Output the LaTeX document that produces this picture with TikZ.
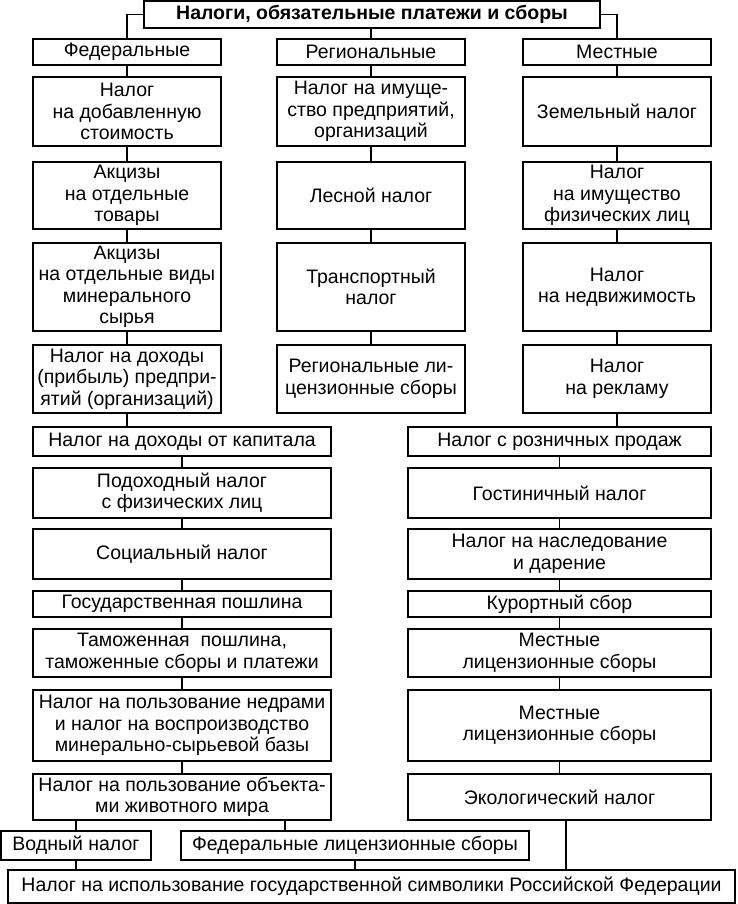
\documentclass[tikz,border=0pt]{standalone}
\usepackage{fontspec}
\setmainfont{Liberation Sans}
\begin{document}
\begin{tikzpicture}[x=1pt,y=-1pt,
  box/.style={draw, line width=1.1pt, inner sep=0pt, outer sep=0pt, align=center,
    font=\fontsize{19.5}{21.5}\selectfont},
  sz/.style 2 args={minimum width=#1pt, minimum height=#2pt},
  conn/.style={line width=1.1pt}]
\useasboundingbox (0,0) rectangle (738,904);
% title
\node[box, sz={456}{27}, font=\fontsize{19.5}{21.5}\selectfont\bfseries] (title) at (372,14.5) {Налоги, обязательные платежи и сборы};
% categories
\node[box, sz={188}{26}] (F) at (127,52) {Федеральные};
\node[box, sz={188}{26}] (R) at (371,52) {Региональные};
\node[box, sz={188}{26}] (M) at (617,52) {Местные};
% federal column (upper)
\node[box, sz={188}{69}] (f1) at (127,111.5) {Налог\\на добавленную\\стоимость};
\node[box, sz={188}{67}] (f2) at (127,195.5) {Акцизы\\на отдельные\\товары};
\node[box, sz={188}{88}] (f3) at (127,287) {Акцизы\\на отдельные виды\\минерального\\сырья};
\node[box, sz={188}{68}] (f4) at (127,379) {Налог на доходы\\(прибыль) предпри-\\ятий (организаций)};
% regional column
\node[box, sz={188}{69}] (r1) at (371,111.5) {Налог на имуще-\\ство предприятий,\\организаций};
\node[box, sz={188}{67}] (r2) at (371,195.5) {Лесной налог};
\node[box, sz={188}{88}] (r3) at (371,287) {Транспортный\\налог};
\node[box, sz={188}{68}] (r4) at (371,379) {Региональные ли-\\цензионные сборы};
% local column (upper)
\node[box, sz={188}{69}] (m1) at (617,111.5) {Земельный налог};
\node[box, sz={188}{67}] (m2) at (617,195.5) {Налог\\на имущество\\физических лиц};
\node[box, sz={188}{88}] (m3) at (617,287) {Налог\\на недвижимость};
\node[box, sz={188}{68}] (m4) at (617,379) {Налог\\на рекламу};
% federal column (lower)
\node[box, sz={298}{29}] (f5) at (182,441.5) {Налог на доходы от капитала};
\node[box, sz={298}{50}] (f6) at (182,493) {Подоходный налог\\с физических лиц};
\node[box, sz={298}{50}] (f7) at (182,554) {Социальный налог};
\node[box, sz={298}{26}] (f8) at (182,604) {Государственная пошлина};
\node[box, sz={298}{48}] (f9) at (182,653) {Таможенная\ \ пошлина,\\таможенные сборы и платежи};
\node[box, sz={298}{71}] (f10) at (182,725.5) {Налог на пользование недрами\\и налог на воспроизводство\\минерально-сырьевой базы};
\node[box, sz={298}{46}] (f11) at (182,797) {Налог на пользование объекта-\\ми животного мира};
% local column (lower)
\node[box, sz={303}{29}] (m5) at (559.5,441.5) {Налог с розничных продаж};
\node[box, sz={303}{50}] (m6) at (559.5,493) {Гостиничный налог};
\node[box, sz={303}{50}] (m7) at (559.5,554) {Налог на наследование\\и дарение};
\node[box, sz={303}{26}] (m8) at (559.5,604) {Курортный сбор};
\node[box, sz={303}{48}] (m9) at (559.5,653) {Местные\\лицензионные сборы};
\node[box, sz={303}{71}] (m10) at (559.5,725.5) {Местные\\лицензионные сборы};
\node[box, sz={303}{46}] (m11) at (559.5,797) {Экологический налог};
% bottom
\node[box, sz={150}{29}] (vod) at (76,845.5) {Водный налог};
\node[box, sz={348}{29}] (fedl) at (355,845.5) {Федеральные лицензионные сборы};
\node[box, sz={727}{33}] (bot) at (371.5,886.5) {Налог на использование государственной символики Российской Федерации};
\coordinate (cf) at (285,0);
\coordinate (ce) at (566,0);
% connectors
\draw[conn] (title.west) -| (F.north);
\draw[conn] (title.east) -| (M.north);
\draw[conn] (R.north |- title.south) -- (R.north);
\draw[conn] (F.south) -- (f1.north);
\draw[conn] (f1.south) -- (f2.north);
\draw[conn] (f2.south) -- (f3.north);
\draw[conn] (f3.south) -- (f4.north);
\draw[conn] (f4.south) -- (f4.south |- f5.north);
\draw[conn] (R.south) -- (r1.north);
\draw[conn] (r1.south) -- (r2.north);
\draw[conn] (r2.south) -- (r3.north);
\draw[conn] (r3.south) -- (r4.north);
\draw[conn] (M.south) -- (m1.north);
\draw[conn] (m1.south) -- (m2.north);
\draw[conn] (m2.south) -- (m3.north);
\draw[conn] (m3.south) -- (m4.north);
\draw[conn] (m4.south) -- (m4.south |- m5.north);
\draw[conn] (f5.south) -- (f6.north);
\draw[conn] (f6.south) -- (f7.north);
\draw[conn] (f7.south) -- (f8.north);
\draw[conn] (f8.south) -- (f9.north);
\draw[conn] (f9.south) -- (f10.north);
\draw[conn] (f10.south) -- (f11.north);
\draw[conn] (m5.south) -- (m6.north);
\draw[conn] (m6.south) -- (m7.north);
\draw[conn] (m7.south) -- (m8.north);
\draw[conn] (m8.south) -- (m9.north);
\draw[conn] (m9.south) -- (m10.north);
\draw[conn] (m10.south) -- (m11.north);
\draw[conn] (vod.north |- f11.south) -- (vod.north);
\draw[conn] (cf |- f11.south) -- (cf |- fedl.north);
\draw[conn] (vod.south) -- (vod.south |- bot.north);
\draw[conn] (fedl.south) -- (fedl.south |- bot.north);
\draw[conn] (ce |- m11.south) -- (ce |- bot.north);
\end{tikzpicture}
\end{document}
